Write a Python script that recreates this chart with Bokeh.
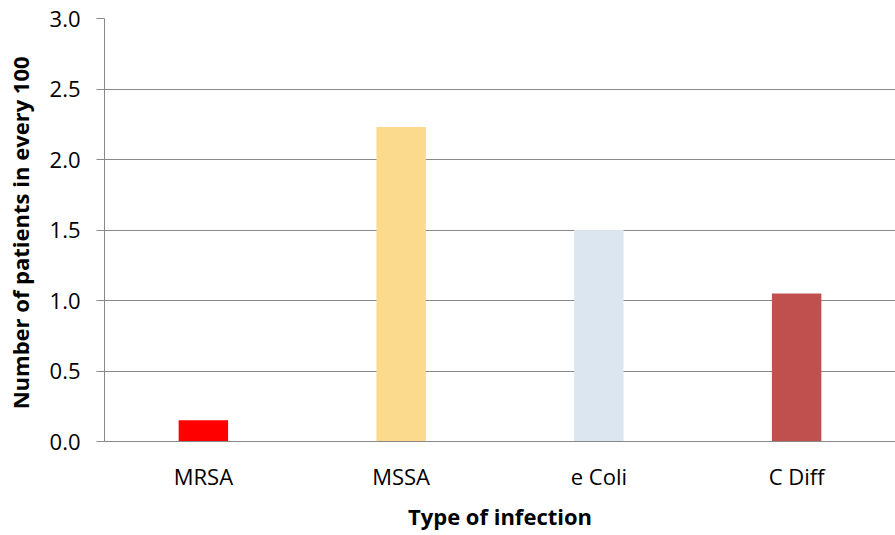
from bokeh.plotting import figure
from bokeh.models import FactorRange, Range1d, FixedTicker, ColumnDataSource, PrintfTickFormatter
from bokeh.embed import file_html
from bokeh.resources import INLINE

categories = ["MRSA", "MSSA", "e Coli", "C Diff"]
values = [0.15, 2.23, 1.50, 1.05]
colors = ["#FF0000", "#FBD98D", "#DCE6F1", "#C0504D"]
y_ticks = [0.0, 0.5, 1.0, 1.5, 2.0, 2.5, 3.0]

src = ColumnDataSource(dict(cat=categories, val=values, col=colors))

p = figure(width=895, height=535, output_backend="svg", toolbar_location=None,
           x_range=FactorRange(*categories, range_padding=0),
           y_range=Range1d(0, 3.0),
           min_border_left=104, min_border_top=18, min_border_bottom=94, min_border_right=0)
p.outline_line_color = None
p.background_fill_color = "white"

p.vbar(x="cat", top="val", width=0.25, color="col", source=src, line_color=None)

font = "Open Sans"
gray = "#888888"

p.yaxis.ticker = FixedTicker(ticks=y_ticks)
p.yaxis.formatter = PrintfTickFormatter(format="%.1f")
p.yaxis.axis_line_color = gray
p.yaxis.major_tick_line_color = gray
p.yaxis.major_tick_out = 8
p.yaxis.major_tick_in = 0
p.yaxis.minor_tick_line_color = None
p.yaxis.major_label_text_font = font
p.yaxis.major_label_text_font_size = "22px"
p.yaxis.major_label_text_color = "black"
p.yaxis.major_label_standoff = 16
p.yaxis.axis_label = "Number of patients  in every 100"
p.yaxis.axis_label_text_font = font
p.yaxis.axis_label_text_font_style = "bold"
p.yaxis.axis_label_text_font_size = "22px"
p.yaxis.axis_label_text_color = "black"
p.yaxis.axis_label_standoff = 12

p.xaxis.axis_line_color = gray
p.xaxis.major_tick_line_color = None
p.xaxis.minor_tick_line_color = None
p.xaxis.major_label_text_font = font
p.xaxis.major_label_text_font_size = "22px"
p.xaxis.major_label_text_color = "black"
p.xaxis.major_label_standoff = 13
p.xaxis.axis_label = "Type of infection"
p.xaxis.axis_label_text_font = font
p.xaxis.axis_label_text_font_style = "bold"
p.xaxis.axis_label_text_font_size = "22px"
p.xaxis.axis_label_text_color = "black"
p.xaxis.axis_label_standoff = 7

p.xgrid.grid_line_color = None
p.ygrid.grid_line_color = gray
p.ygrid.grid_line_width = 1

open("out.html", "w").write(file_html(p, INLINE))
